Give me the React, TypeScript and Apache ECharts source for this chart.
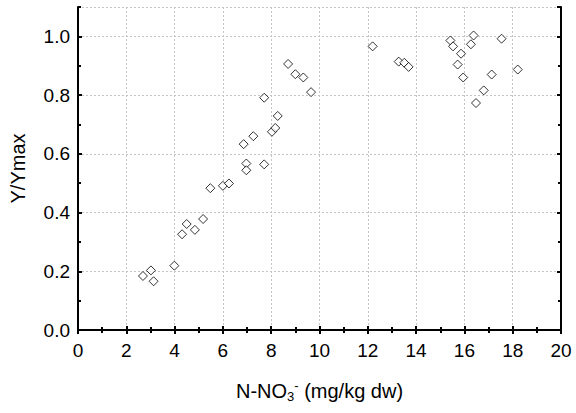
import React, { useEffect, useRef } from "react";
import * as echarts from "echarts";

const xValues = [
  2.69, 3.02, 3.13, 3.99, 4.31, 4.5, 4.84, 5.18, 5.48, 6.0, 6.25,
  6.86, 7.26, 6.97, 6.97, 7.71, 7.71, 8.03, 8.17, 8.27, 8.7, 9.0, 9.33, 9.65,
  12.2, 13.28, 13.51, 13.69, 15.42, 15.53, 15.86, 15.72, 15.95, 16.38, 16.27,
  16.48, 16.8, 17.13, 17.54, 18.21,
];
const yValues = [
  0.184, 0.203, 0.166, 0.219, 0.326, 0.361, 0.341, 0.378, 0.483, 0.491, 0.499,
  0.633, 0.66, 0.567, 0.544, 0.564, 0.791, 0.675, 0.688, 0.729, 0.906, 0.871, 0.86, 0.81,
  0.966, 0.914, 0.91, 0.896, 0.986, 0.966, 0.941, 0.904, 0.86, 1.003, 0.973,
  0.773, 0.816, 0.87, 0.992, 0.887,
];
const xTickStep = 2;
const yTickStep = 0.2;
const yMinorStep = 0.1;
const xAxisTitle = "{a|N-NO}{sub|3}{sup|-}{a| (mg/kg dw)}";
const yAxisTitle = "Y/Ymax";

const FONT = "'Liberation Sans', Arial, sans-serif";
const FS = 19;
const TFS = 20;

export default function App() {
  const ref = useRef<HTMLDivElement>(null);
  useEffect(() => {
    if (!ref.current) return;
    const chart = echarts.init(ref.current, undefined, { renderer: "svg" });
    const points = xValues.map((x, i) => [x, yValues[i]]);
    const axisLine = { show: true, lineStyle: { color: "#000", width: 2 } };
    const majorTick = { show: true, inside: true, length: 4, lineStyle: { color: "#000", width: 2 } };
    const minorTickAxis = { show: true, inside: true, length: 3, lineStyle: { color: "#000", width: 2 } };
    const split = { show: true, lineStyle: { color: "#c4c4c4", width: 1, type: [2, 2] as any } };
    chart.setOption({
      animation: false,
      backgroundColor: "#fff",
      grid: { left: 77, right: 15, top: 7, bottom: 83, containLabel: false },
      xAxis: [
        {
          type: "value",
          position: "bottom",
          min: 0,
          max: 20,
          interval: xTickStep,
          axisLine,
          axisTick: majorTick,
          minorTick: { show: true, splitNumber: 2, length: 3, lineStyle: { color: "#000", width: 2 } },
          splitLine: split,
          axisLabel: { color: "#000", fontSize: FS, fontFamily: FONT, margin: 11 },
          name: xAxisTitle,
          nameLocation: "middle",
          nameGap: 49,
          nameTextStyle: {
            rich: {
              a: { fontSize: TFS, fontFamily: FONT, color: "#000", lineHeight: 24, verticalAlign: "middle" },
              sub: { fontSize: 13, fontFamily: FONT, color: "#000", lineHeight: 12, verticalAlign: "bottom" },
              sup: { fontSize: 13, fontFamily: FONT, color: "#000", lineHeight: 12, verticalAlign: "top" },
            },
          },
        },
        {
          type: "value",
          position: "top",
          min: 0,
          max: 20,
          interval: xTickStep,
          axisLine,
          axisTick: majorTick,
          minorTick: { show: true, splitNumber: 2, length: 3, lineStyle: { color: "#000", width: 2 } },
          splitLine: { show: false },
          axisLabel: { show: false },
        },
      ],
      yAxis: [
        {
          type: "value",
          position: "left",
          min: 0,
          max: 1.1,
          interval: yTickStep,
          axisLine,
          axisTick: majorTick,
          splitLine: split,
          axisLabel: {
            color: "#000",
            fontSize: FS,
            fontFamily: FONT,
            margin: 8,
            showMaxLabel: false,
            formatter: (v: number) => (v > 1.05 ? "" : v.toFixed(1)),
          },
          name: yAxisTitle,
          nameLocation: "middle",
          nameGap: 50,
          nameTextStyle: { fontSize: TFS, fontFamily: FONT, color: "#000" },
        },
        {
          type: "value",
          position: "left",
          min: 0,
          max: 1.1,
          interval: yMinorStep,
          axisLine: { show: false },
          axisTick: minorTickAxis,
          splitLine: { show: false },
          axisLabel: { show: false },
        },
        {
          type: "value",
          position: "right",
          min: 0,
          max: 1.1,
          interval: yTickStep,
          axisLine,
          axisTick: majorTick,
          splitLine: { show: false },
          axisLabel: { show: false },
        },
        {
          type: "value",
          position: "right",
          min: 0,
          max: 1.1,
          interval: yMinorStep,
          axisLine: { show: false },
          axisTick: minorTickAxis,
          splitLine: { show: false },
          axisLabel: { show: false },
        },
      ],
      series: [
        {
          type: "scatter",
          xAxisIndex: 0,
          yAxisIndex: 0,
          data: points,
          symbol: "diamond",
          symbolSize: 9,
          itemStyle: { color: "#fff", borderColor: "#000", borderWidth: 1 },
        },
      ],
    });
    return () => chart.dispose();
  }, []);
  return (
    <div
      ref={ref}
      style={{ position: "absolute", left: 0, top: 0, width: 576, height: 413 }}
    />
  );
}
